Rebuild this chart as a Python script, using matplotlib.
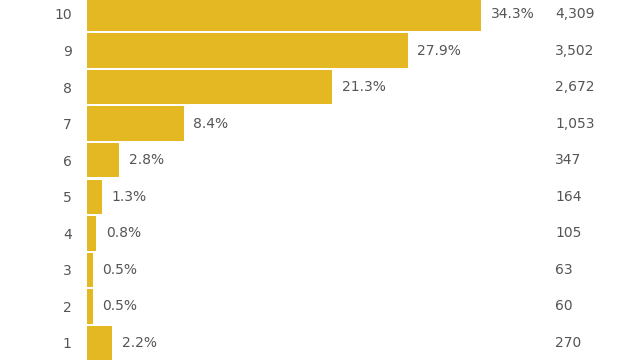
import matplotlib
matplotlib.use('Agg')
import matplotlib.pyplot as plt
import matplotlib.transforms as mtransforms

# Data (bottom to top)
scores = ['1', '2', '3', '4', '5', '6', '7', '8', '9', '10']
percents = [2.2, 0.5, 0.5, 0.8, 1.3, 2.8, 8.4, 21.3, 27.9, 34.3]
counts = [270, 60, 63, 105, 164, 347, 1053, 2672, 3502, 4309]

BAR_COLOR = '#E4B823'
TEXT_COLOR = '#555555'

fig = plt.figure(figsize=(6.4, 3.6), dpi=100)
ax = fig.add_axes([87 / 640, 0, 553 / 640, 1])

y = list(range(len(scores)))
ax.barh(y, percents, height=0.94, color=BAR_COLOR, edgecolor='none')

ax.set_xlim(0, 553 / 11.49)
ax.set_ylim(-0.465, 9.382)

ax.set_yticks(y)
ax.set_yticklabels(scores, fontsize=10, color=TEXT_COLOR)
ax.tick_params(axis='y', length=0, pad=11)
ax.set_xticks([])
for s in ax.spines.values():
    s.set_visible(False)

# percentage labels next to bars
for yi, p in zip(y, percents):
    ax.text(p + 0.85, yi, f'{p:.1f}%', va='center', ha='left',
            fontsize=10, color=TEXT_COLOR)

# count column on the right
trans = mtransforms.blended_transform_factory(fig.transFigure, ax.transData)
for yi, c in zip(y, counts):
    ax.text(555 / 640, yi, f'{c:,}', va='center', ha='left',
            fontsize=10, color=TEXT_COLOR, transform=trans)

fig.savefig('out.png', dpi=100)
